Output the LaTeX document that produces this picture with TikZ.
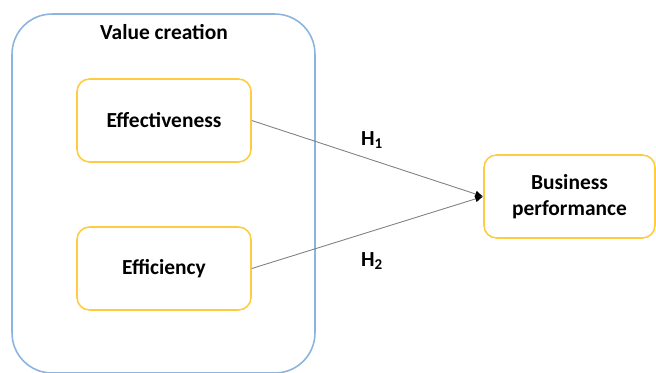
\documentclass[tikz,border=0pt]{standalone}
\usepackage{fontspec}
\setmainfont{Carlito}
\usetikzlibrary{positioning,arrows.meta}

\definecolor{groupblue}{RGB}{140,180,222}
\definecolor{boxgold}{RGB}{255,204,64}

\begin{document}
\begin{tikzpicture}[
  x=0.02cm, y=-0.02cm,
  group/.style={draw=groupblue, line width=0.9pt, rounded corners=0.8cm, minimum width=6.06cm, minimum height=7.18cm},
  factor/.style={draw=boxgold, line width=0.9pt, rounded corners=0.25cm, fill=white, minimum width=3.48cm, minimum height=1.66cm, font=\fontsize{12.2}{14.6}\selectfont\bfseries, align=center},
  link/.style={-{Latex[black,length=1.6mm,width=1.4mm]}, gray, line width=0.5pt},
  hyp/.style={font=\fontsize{12.2}{14.6}\selectfont\bfseries}
]
  \useasboundingbox (0,0) rectangle (656,372);

  % Outer group (value creation)
  \node[group] (vc) at (163.5,193.5) {};
  \node[hyp] (vctitle) at (164,32) {Value creation};

  % Factors inside the group
  \node[factor] (eff) at (164,120.5) {Effectiveness};
  \node[factor] (effi) at (164,268.5) {Efficiency};

  % Outcome
  \node[factor, minimum width=3.42cm] (bp) at (569.5,196.5) {Business\\performance};

  % Hypotheses
  \draw[link] (eff.east) -- (bp.west);
  \draw[link] (effi.east) -- (bp.west);
  \node[hyp] (h1) at (372,140) {H\textsubscript{1}};
  \node[hyp] (h2) at (372,261) {H\textsubscript{2}};
\end{tikzpicture}
\end{document}
